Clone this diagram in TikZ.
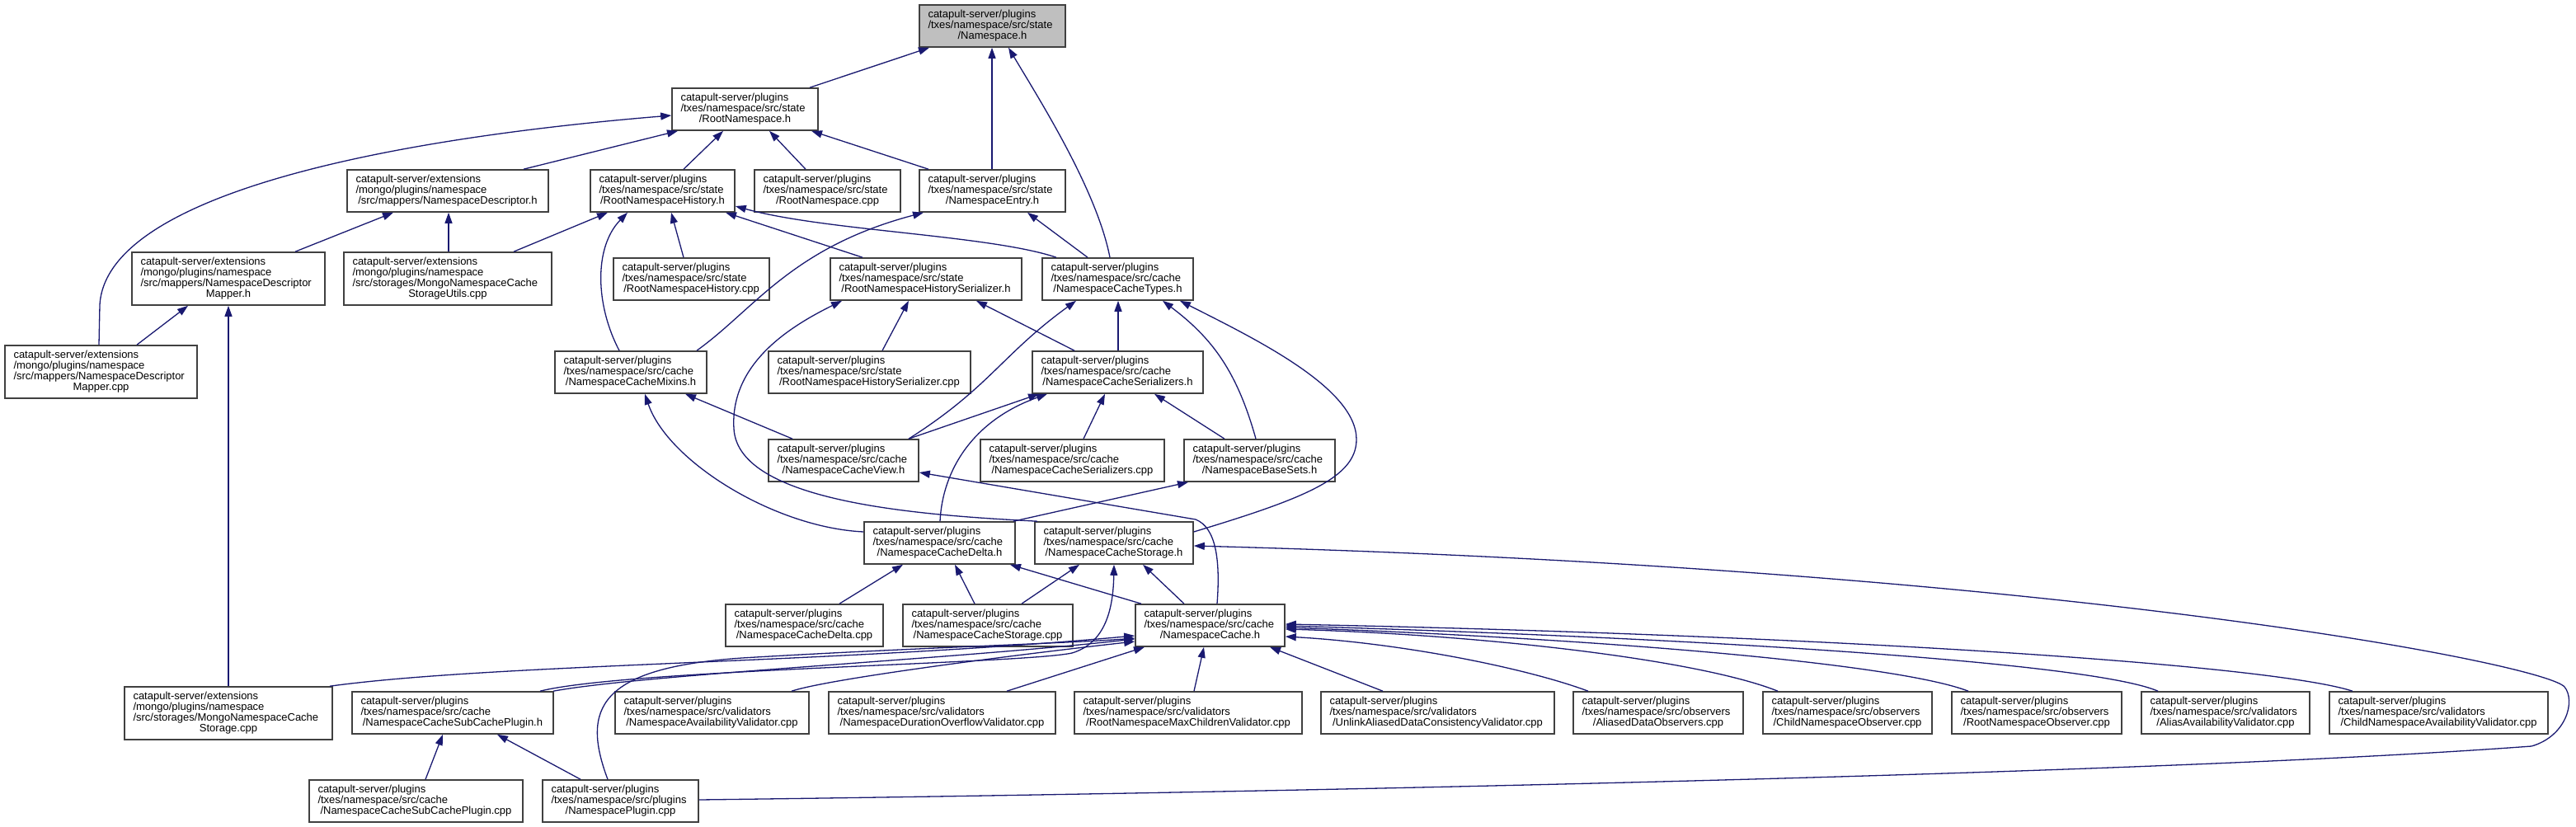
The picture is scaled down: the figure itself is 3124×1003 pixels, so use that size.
\documentclass[tikz,border=0pt]{standalone}
\usepackage{fontspec}
\setmainfont{Liberation Sans}
\usetikzlibrary{arrows.meta}
\definecolor{edgeblue}{HTML}{191970}
\definecolor{rootgray}{HTML}{BFBFBF}
\definecolor{boxline}{HTML}{404040}
\newcommand{\lastln}[1]{\makebox[\hsize][c]{#1}}
\newcommand{\bxnode}[7][]{%
  \pgfmathsetmacro{\bxw}{#5-#3}%
  \pgfmathsetmacro{\bxh}{#6-#4}%
  \pgfmathsetmacro{\bxt}{#5-#3-21}%
  \node[bx,#1,minimum width=\bxw pt,minimum height=\bxh pt,text width=\bxt pt] (#2) at ({(#3+#5)/2},{(#4+#6)/2}) {#7};}
\begin{document}
\begin{tikzpicture}[x=1pt,y=-1pt,
  bx/.style={draw=boxline, line width=1.6pt, fill=white, inner sep=0pt, align=left,
             font=\fontsize{13}{13}\selectfont},
  edge/.style={draw=edgeblue, line width=1.3pt, -{Triangle[length=13pt,width=9pt]}}]
\useasboundingbox (0,0) rectangle (3124,1003);

% ---------- nodes ----------
\bxnode[fill=rootgray]{ns}{1115}{6}{1292}{57}{catapult-server/plugins\\/txes/namespace/src/state\\\lastln{/Namespace.h}}
\bxnode{rn}{815}{107}{992}{158}{catapult-server/plugins\\/txes/namespace/src/state\\\lastln{/RootNamespace.h}}
\bxnode{nd}{421}{206}{665}{257}{catapult-server/extensions\\/mongo/plugins/namespace\\\lastln{/src/mappers/NamespaceDescriptor.h}}
\bxnode{rnh}{716}{206}{891}{257}{catapult-server/plugins\\/txes/namespace/src/state\\\lastln{/RootNamespaceHistory.h}}
\bxnode{rncpp}{915}{206}{1092}{257}{catapult-server/plugins\\/txes/namespace/src/state\\\lastln{/RootNamespace.cpp}}
\bxnode{ne}{1115}{206}{1292}{257}{catapult-server/plugins\\/txes/namespace/src/state\\\lastln{/NamespaceEntry.h}}
\bxnode{ndm}{160}{306}{394}{370}{catapult-server/extensions\\/mongo/plugins/namespace\\/src/mappers/NamespaceDescriptor\\\lastln{Mapper.h}}
\bxnode{mu}{417}{306}{669}{370}{catapult-server/extensions\\/mongo/plugins/namespace\\/src/storages/MongoNamespaceCache\\\lastln{StorageUtils.cpp}}
\bxnode{rnhcpp}{744}{313}{933}{364}{catapult-server/plugins\\/txes/namespace/src/state\\\lastln{/RootNamespaceHistory.cpp}}
\bxnode{rnhs}{1007}{313}{1239}{364}{catapult-server/plugins\\/txes/namespace/src/state\\\lastln{/RootNamespaceHistorySerializer.h}}
\bxnode{ty}{1264}{313}{1447}{364}{catapult-server/plugins\\/txes/namespace/src/cache\\\lastln{/NamespaceCacheTypes.h}}
\bxnode{ndmcpp}{6}{419}{239}{483}{catapult-server/extensions\\/mongo/plugins/namespace\\/src/mappers/NamespaceDescriptor\\\lastln{Mapper.cpp}}
\bxnode{mx}{673}{426}{857}{477}{catapult-server/plugins\\/txes/namespace/src/cache\\\lastln{/NamespaceCacheMixins.h}}
\bxnode{rnhscpp}{932}{426}{1177}{477}{catapult-server/plugins\\/txes/namespace/src/state\\\lastln{/RootNamespaceHistorySerializer.cpp}}
\bxnode{se}{1252}{426}{1459}{477}{catapult-server/plugins\\/txes/namespace/src/cache\\\lastln{/NamespaceCacheSerializers.h}}
\bxnode{vw}{932}{533}{1114}{584}{catapult-server/plugins\\/txes/namespace/src/cache\\\lastln{/NamespaceCacheView.h}}
\bxnode{secpp}{1189}{533}{1412}{584}{catapult-server/plugins\\/txes/namespace/src/cache\\\lastln{/NamespaceCacheSerializers.cpp}}
\bxnode{bs}{1436}{533}{1619}{584}{catapult-server/plugins\\/txes/namespace/src/cache\\\lastln{/NamespaceBaseSets.h}}
\bxnode{de}{1048}{633}{1231}{684}{catapult-server/plugins\\/txes/namespace/src/cache\\\lastln{/NamespaceCacheDelta.h}}
\bxnode{st}{1255}{633}{1447}{684}{catapult-server/plugins\\/txes/namespace/src/cache\\\lastln{/NamespaceCacheStorage.h}}
\bxnode{decpp}{880}{733}{1071}{784}{catapult-server/plugins\\/txes/namespace/src/cache\\\lastln{/NamespaceCacheDelta.cpp}}
\bxnode{stcpp}{1095}{733}{1301}{784}{catapult-server/plugins\\/txes/namespace/src/cache\\\lastln{/NamespaceCacheStorage.cpp}}
\bxnode{ca}{1377}{733}{1558}{784}{catapult-server/plugins\\/txes/namespace/src/cache\\\lastln{/NamespaceCache.h}}
\bxnode{ms}{151}{833}{403}{897}{catapult-server/extensions\\/mongo/plugins/namespace\\/src/storages/MongoNamespaceCache\\\lastln{Storage.cpp}}
\bxnode{scp}{427}{839}{671}{890}{catapult-server/plugins\\/txes/namespace/src/cache\\\lastln{/NamespaceCacheSubCachePlugin.h}}
\bxnode{nav}{746}{839}{981}{890}{catapult-server/plugins\\/txes/namespace/src/validators\\\lastln{/NamespaceAvailabilityValidator.cpp}}
\bxnode{ndo}{1005}{839}{1280}{890}{catapult-server/plugins\\/txes/namespace/src/validators\\\lastln{/NamespaceDurationOverflowValidator.cpp}}
\bxnode{rnmc}{1303}{839}{1579}{890}{catapult-server/plugins\\/txes/namespace/src/validators\\\lastln{/RootNamespaceMaxChildrenValidator.cpp}}
\bxnode{ul}{1602}{839}{1885}{890}{catapult-server/plugins\\/txes/namespace/src/validators\\\lastln{/UnlinkAliasedDataConsistencyValidator.cpp}}
\bxnode{ado}{1908}{839}{2114}{890}{catapult-server/plugins\\/txes/namespace/src/observers\\\lastln{/AliasedDataObservers.cpp}}
\bxnode{cno}{2138}{839}{2343}{890}{catapult-server/plugins\\/txes/namespace/src/observers\\\lastln{/ChildNamespaceObserver.cpp}}
\bxnode{rno}{2367}{839}{2573}{890}{catapult-server/plugins\\/txes/namespace/src/observers\\\lastln{/RootNamespaceObserver.cpp}}
\bxnode{aav}{2597}{839}{2801}{890}{catapult-server/plugins\\/txes/namespace/src/validators\\\lastln{/AliasAvailabilityValidator.cpp}}
\bxnode{cnav}{2825}{839}{3090}{890}{catapult-server/plugins\\/txes/namespace/src/validators\\\lastln{/ChildNamespaceAvailabilityValidator.cpp}}
\bxnode{scpcpp}{375}{946}{634}{997}{catapult-server/plugins\\/txes/namespace/src/cache\\\lastln{/NamespaceCacheSubCachePlugin.cpp}}
\bxnode{np}{658}{946}{847}{997}{catapult-server/plugins\\/txes/namespace/src/plugins\\\lastln{/NamespacePlugin.cpp}}

% ---------- edges ----------
% Namespace.h
\draw[edge] (rn.north -| 982,0) -- (ns.south -| 1127,0);
\draw[edge] (ne.north -| 1203,0) -- (ns.south -| 1203,0);
\draw[edge] (ty.north -| 1346,0) .. controls (1330,230) and (1260,120) .. (ns.south -| 1223,0);
% RootNamespace.h
\draw[edge] (nd.north -| 635,0) -- (rn.south -| 822,0);
\draw[edge] (rnh.north -| 829,0) -- (rn.south -| 877,0);
\draw[edge] (rncpp.north -| 977,0) -- (rn.south -| 933,0);
\draw[edge] (ne.north -| 1126,0) -- (rn.south -| 984,0);
\draw[edge] (ndmcpp.north -| 120,0) -- (121,370) .. controls (128,240) and (450,170) .. (rn.west |- 0,140);
% NamespaceDescriptor.h
\draw[edge] (ndm.north -| 358,0) -- (nd.south -| 477,0);
\draw[edge] (mu.north -| 544,0) -- (nd.south -| 544,0);
% RootNamespaceHistory.h
\draw[edge] (mu.north -| 623,0) -- (rnh.south -| 737,0);
\draw[edge] (mx.north -| 751,0) .. controls (722,370) and (720,300) .. (rnh.south -| 761,0);
\draw[edge] (rnhcpp.north -| 829,0) -- (rnh.south -| 814,0);
\draw[edge] (rnhs.north -| 1046,0) -- (rnh.south -| 880,0);
\draw[edge] (ty.north -| 1281,0) .. controls (1200,285) and (1000,280) .. (rnh.east |- 0,250);
% NamespaceDescriptorMapper.h
\draw[edge] (ndmcpp.north -| 166,0) -- (ndm.south -| 228,0);
\draw[edge] (ms.north -| 277,0) -- (ndm.south -| 277,0);
% NamespaceEntry.h
\draw[edge] (mx.north -| 845,0) .. controls (915,375) and (960,300) .. (ne.south -| 1120,0);
\draw[edge] (ty.north -| 1319,0) -- (ne.south -| 1246,0);
% RootNamespaceHistorySerializer.h
\draw[edge] (rnhscpp.north -| 1070,0) -- (rnhs.south -| 1102,0);
\draw[edge] (se.north -| 1303,0) -- (rnhs.south -| 1184,0);
\draw[edge] (st.north -| 1258,0) .. controls (1120,625) and (895,610) .. (890,520) .. controls (885,440) and (960,395) .. (rnhs.south -| 1021,0);
% NamespaceCacheTypes.h
\draw[edge] (se.north -| 1356,0) -- (ty.south -| 1356,0);
\draw[edge] (vw.north -| 1102,0) .. controls (1200,470) and (1215,430) .. (ty.south -| 1305,0);
\draw[edge] (bs.north -| 1523,0) .. controls (1500,450) and (1470,410) .. (ty.south -| 1410,0);
\draw[edge] (st.east |- 0,645) .. controls (1580,605) and (1645,580) .. (1645,533) .. controls (1645,470) and (1520,410) .. (ty.south -| 1431,0);
% NamespaceCacheSerializers.h
\draw[edge] (vw.north -| 1102,0) -- (se.south -| 1260,0);
\draw[edge] (de.north -| 1140,0) .. controls (1143,570) and (1180,510) .. (se.south -| 1270,0);
\draw[edge] (secpp.north -| 1314,0) -- (se.south -| 1340,0);
\draw[edge] (bs.north -| 1485,0) -- (se.south -| 1400,0);
% NamespaceCacheMixins.h
\draw[edge] (vw.north -| 961,0) -- (mx.south -| 831,0);
\draw[edge] (de.west |- 0,645) .. controls (940,640) and (810,560) .. (mx.south -| 782,0);
% NamespaceCacheView.h
\draw[edge] (ca.north -| 1476,0) .. controls (1480,680) and (1475,640) .. (1450,630) -- (vw.east |- 0,573);
% NamespaceBaseSets.h
\draw[edge] (de.north -| 1229,0) -- (bs.south -| 1441,0);
% NamespaceCacheDelta.h
\draw[edge] (decpp.north -| 1018,0) -- (de.south -| 1095,0);
\draw[edge] (stcpp.north -| 1182,0) -- (de.south -| 1158,0);
\draw[edge] (ca.north -| 1384,0) -- (de.south -| 1225,0);
% NamespaceCacheStorage.h
\draw[edge] (stcpp.north -| 1239,0) -- (st.south -| 1309,0);
\draw[edge] (ca.north -| 1436,0) -- (st.south -| 1386,0);
\draw[edge] (scp.north -| 655,0) .. controls (760,812) and (1240,805) .. (1300,792) .. controls (1340,780) and (1350,740) .. (st.south -| 1351,0);
\draw[edge] (np.east |- 0,970) .. controls (1500,962) and (2600,940) .. (3070,905) .. controls (3112,893) and (3124,850) .. (3110,833) .. controls (3085,805) and (2500,690) .. (st.east |- 0,662);
% NamespaceCache.h
\draw[edge] (ms.north -| 400,0) .. controls (600,805) and (1000,805) .. (ca.west |- 0,771);
\draw[edge] (scp.north -| 671,0) .. controls (780,818) and (1150,800) .. (ca.west |- 0,775);
\draw[edge] (nav.north -| 960,0) .. controls (1010,822) and (1250,792) .. (ca.west |- 0,778);
\draw[edge] (np.north -| 737,0) .. controls (705,860) and (725,810) .. (900,798) .. controls (1100,786) and (1300,780) .. (ca.west |- 0,774);
\draw[edge] (ndo.north -| 1221,0) -- (ca.south -| 1388,0);
\draw[edge] (rnmc.north -| 1448,0) -- (ca.south -| 1460,0);
\draw[edge] (ul.north -| 1677,0) -- (ca.south -| 1540,0);
\draw[edge] (ado.north -| 1926,0) .. controls (1850,810) and (1700,780) .. (ca.east |- 0,772);
\draw[edge] (cno.north -| 2156,0) .. controls (2060,800) and (1800,770) .. (ca.east |- 0,763);
\draw[edge] (rno.north -| 2387,0) .. controls (2300,805) and (1950,775) .. (ca.east |- 0,761);
\draw[edge] (aav.north -| 2617,0) .. controls (2540,805) and (2100,775) .. (ca.east |- 0,759);
\draw[edge] (cnav.north -| 2853,0) .. controls (2750,805) and (2200,770) .. (ca.east |- 0,757);
% NamespaceCacheSubCachePlugin.h
\draw[edge] (scpcpp.north -| 516,0) -- (scp.south -| 537,0);
\draw[edge] (np.north -| 704,0) -- (scp.south -| 603,0);
\end{tikzpicture}
\end{document}
